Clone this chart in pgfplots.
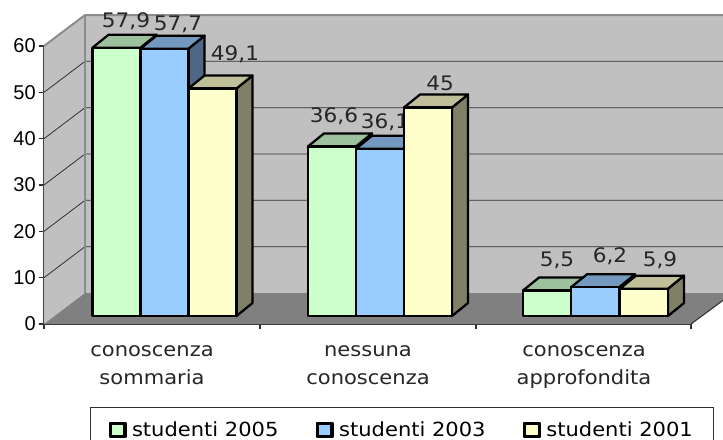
\documentclass[border=0pt]{standalone}
\usepackage{pgfplots}
\usepackage{fontspec}
\pgfplotsset{compat=1.18}
\setmainfont{Liberation Sans}
\newfontfamily\vfont[FakeStretch=1.08]{DejaVu Sans}
\definecolor{wallc}{HTML}{C0C0C0}
\definecolor{floorc}{HTML}{808080}
\definecolor{edgec}{HTML}{8C8C8C}
\definecolor{gridc}{HTML}{303030}
\definecolor{gfront}{HTML}{CCFFCC}
\definecolor{gtop}{HTML}{9DC09D}
\definecolor{gside}{HTML}{668066}
\definecolor{bfront}{HTML}{99CCFF}
\definecolor{btop}{HTML}{7399BF}
\definecolor{bside}{HTML}{4F6787}
\definecolor{yfront}{HTML}{FFFFCC}
\definecolor{ytop}{HTML}{BFBF99}
\definecolor{yside}{HTML}{808066}
% x is in pixels of the picture, y in chart units (4.633 px per unit)
% bar: left x, value, colour prefix, legend or forget plot
\newcommand{\solidbar}[4]{%
  \addplot[forget plot, draw=black, line width=1.7pt, line join=round, fill=#3side] coordinates {(#1+48,#2+1.73)(#1+64,#2+4.53)(#1+64,4.53)(#1+48,1.73)} -- cycle;
  \addplot[forget plot, draw=black, line width=1.7pt, line join=round, fill=#3top] coordinates {(#1,#2+1.73)(#1+16,#2+4.53)(#1+64,#2+4.53)(#1+48,#2+1.73)} -- cycle;
  \addplot[#4, draw=black, line width=1.7pt, line join=round, fill=#3front] coordinates {(#1,1.73)(#1+48,1.73)(#1+48,#2+1.73)(#1,#2+1.73)} -- cycle;
}
\newcommand{\vlabel}[3]{\node[font=\vfont\fontsize{15}{18}\selectfont, inner sep=0pt, text=black!85] at (axis cs:#1,#2) {#3};}
\begin{document}
\begin{tikzpicture}
\begin{axis}[
  scale only axis, width=485.25pt, height=208.5pt,
  at={(0,0)}, anchor=origin,
  xmin=44, xmax=691, ymin=0, ymax=60,
  clip=false,
  axis x line*=bottom, axis y line*=left,
  axis line style={gridc, line width=0.8pt},
  tick style={gridc, line width=0.8pt},
  ytick={0,10,...,60},
  tick align=outside,
  major tick length=4pt,
  /pgf/number format/assume math mode=true,
  yticklabel style={font=\fontsize{15}{16}\selectfont, inner sep=2pt},
  xtick={152,368,584},
  xticklabels={{conoscenza\\sommaria},{nessuna\\conoscenza},{conoscenza\\approfondita}},
  x tick style={draw=none},
  xticklabel style={font=\vfont\fontsize{14.6}{21}\selectfont, align=center, yshift=-9pt, text=black!85},
  minor xtick={44,260,476,691},
  minor x tick style={gridc, draw=gridc, line width=0.8pt},
  minor tick length=4pt,
  legend columns=3,
  area legend,
  legend style={at={(0.0711,-0.298)}, anchor=north west, draw=gridc, line width=0.8pt,
    fill=white, font=\vfont\fontsize{14.6}{18}\selectfont,
    inner xsep=13.5pt, inner ysep=8.5pt,
    /tikz/every even column/.append style={column sep=26pt}},
  legend image code/.code={\path (13.5pt,0pt); \fill[black] (-0.4pt,-5.3pt) rectangle (11.4pt,5.3pt); \path[#1, draw=none] (1.2pt,-3.7pt) rectangle (9.8pt,3.7pt);},
  legend cell align=left,
]
% walls and floor
\addplot[forget plot, fill=wallc, draw=none] coordinates {(85,6.69)(723,6.69)(723,66.69)(85,66.69)} -- cycle;
\addplot[forget plot, fill=wallc, draw=none] coordinates {(44,0)(85,6.69)(85,66.69)(44,60)} -- cycle;
\addplot[forget plot, fill=floorc, draw=none] coordinates {(44,0)(85,6.69)(723,6.69)(723,5.1)(691,0)} -- cycle;
\addplot[forget plot, gridc, line width=0.8pt] coordinates {(691,0)(723,5.1)};
% gridlines
\addplot[forget plot, gridc, line width=0.6pt] coordinates {(44,10)(85,16.69)(723,16.69)};
\addplot[forget plot, gridc, line width=0.6pt] coordinates {(44,20)(85,26.69)(723,26.69)};
\addplot[forget plot, gridc, line width=0.6pt] coordinates {(44,30)(85,36.69)(723,36.69)};
\addplot[forget plot, gridc, line width=0.6pt] coordinates {(44,40)(85,46.69)(723,46.69)};
\addplot[forget plot, gridc, line width=0.6pt] coordinates {(44,50)(85,56.69)(723,56.69)};
\addplot[forget plot, edgec, line width=1.5pt] coordinates {(44,60)(85,66.69)(723,66.69)};
\addplot[forget plot, edgec, line width=1.5pt] coordinates {(85,6.69)(85,66.69)};
% group 1
\solidbar{92.5}{57.9}{g}{}
\vlabel{126}{65.3}{57,9}
\solidbar{140.5}{57.7}{b}{}
\vlabel{178}{64.7}{57,7}
\solidbar{188.5}{49.1}{y}{}
\vlabel{235}{58.3}{49,1}
% group 2
\solidbar{308}{36.6}{g}{forget plot}
\vlabel{334}{44.9}{36,6}
\solidbar{356}{36.1}{b}{forget plot}
\vlabel{385}{43.6}{36,1}
\solidbar{404}{45}{y}{forget plot}
\vlabel{440}{52}{45}
% group 3
\solidbar{523}{5.5}{g}{forget plot}
\vlabel{557}{13.8}{5,5}
\solidbar{571}{6.2}{b}{forget plot}
\vlabel{610}{14.7}{6,2}
\solidbar{620}{5.9}{y}{forget plot}
\vlabel{660}{13.8}{5,9}
\legend{studenti 2005,studenti 2003,studenti 2001\hspace{3pt}}
\end{axis}
\pgfresetboundingbox
\path[use as bounding box] (-33pt,-86.25pt) rectangle (509.25pt,243pt);
\end{tikzpicture}
\end{document}
